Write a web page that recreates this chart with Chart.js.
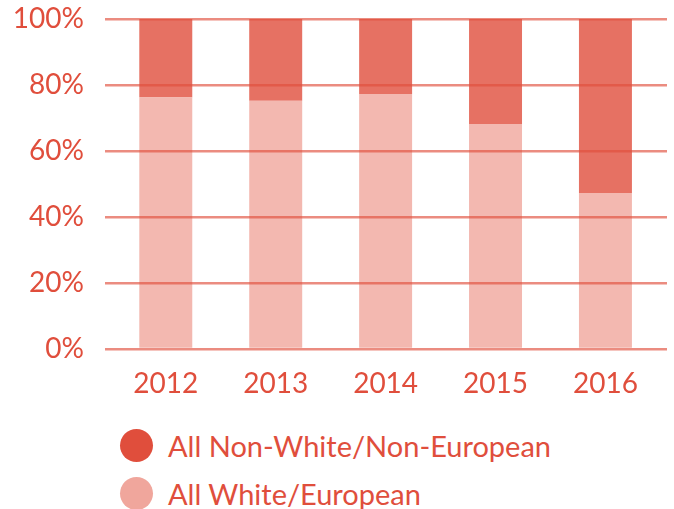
<!DOCTYPE html>
<html>
<head>
<meta charset="utf-8">
<script src="https://cdn.jsdelivr.net/npm/chart.js@4.4.1/dist/chart.umd.min.js"></script>
<style>
  html, body { margin: 0; padding: 0; background: #fff; }
  #wrap { position: relative; width: 674px; height: 509px; overflow: hidden; }
  #chartBox { position: absolute; left: 0; top: 0; width: 674px; height: 405px; }
  #legend { position: absolute; left: 120px; top: 421px; font-family: Lato, sans-serif; font-size: 29px; color: #e04e3c; }
  .item { display: flex; align-items: center; height: 48px; }
  .dot { width: 33px; height: 33px; border-radius: 50%; margin-right: 15px; }
</style>
</head>
<body>
<div id="wrap">
  <div id="chartBox"><canvas id="c"></canvas></div>
  <div id="legend"></div>
</div>
<script>
const categories = ['2012', '2013', '2014', '2015', '2016'];
const whiteEuropean = [76.3, 75.2, 77.3, 68.2, 47.3];
const nonWhiteNonEuropean = [23.7, 24.8, 22.7, 31.8, 52.7];
const yTicks = [0, 20, 40, 60, 80, 100];
const seriesNames = ['All White/European', 'All Non-White/Non-European'];

const textColor = '#e04e3c';
const fontFamily = 'Lato, sans-serif';

const toPoints = arr => arr.map((v, i) => ({ x: i, y: v }));

const chart = new Chart(document.getElementById('c'), {
  type: 'bar',
  data: {
    datasets: [
      { label: seriesNames[0], data: toPoints(whiteEuropean), backgroundColor: 'rgba(240,166,156,0.8)', legendColor: '#f0a69c', borderWidth: 0 },
      { label: seriesNames[1], data: toPoints(nonWhiteNonEuropean), backgroundColor: 'rgba(224,78,60,0.8)', legendColor: '#e04e3c', borderWidth: 0 }
    ]
  },
  options: {
    responsive: true,
    maintainAspectRatio: false,
    animation: false,
    layout: { padding: { top: 19, right: 7, left: 0, bottom: 0 } },
    datasets: { bar: { barPercentage: 0.482, categoryPercentage: 1 } },
    plugins: { legend: { display: false }, tooltip: { enabled: false } },
    scales: {
      x: {
        type: 'linear',
        stacked: true,
        offset: false,
        min: -0.553,
        max: 4.56,
        grid: { display: false, offset: false },
        border: { display: false },
        afterBuildTicks: s => { s.ticks = categories.map((_, i) => ({ value: i })); },
        afterFit: s => { s.height = 56; s.paddingLeft = 0; s.paddingRight = 0; },
        ticks: {
          callback: v => categories[v] ?? '',
          color: textColor,
          font: { family: fontFamily, size: 28 },
          padding: 10,
          maxRotation: 0,
          autoSkip: false
        }
      },
      y: {
        stacked: true,
        min: 0,
        max: 100,
        afterBuildTicks: s => { s.ticks = yTicks.map(v => ({ value: v })); },
        afterFit: s => { s.width = 105; s.paddingTop = 0; s.paddingBottom = 0; },
        border: { display: false },
        grid: { color: 'rgba(224,78,60,0.65)', lineWidth: 2.5, drawTicks: false, z: 1 },
        ticks: {
          callback: v => v + '%',
          color: textColor,
          font: { family: fontFamily, size: 28 },
          padding: 21
        }
      }
    }
  }
});

const legend = document.getElementById('legend');
chart.data.datasets.slice().reverse().forEach(ds => {
  const item = document.createElement('div');
  item.className = 'item';
  const dot = document.createElement('span');
  dot.className = 'dot';
  dot.style.background = ds.legendColor;
  const txt = document.createElement('span');
  txt.textContent = ds.label;
  item.appendChild(dot);
  item.appendChild(txt);
  legend.appendChild(item);
});
</script>
</body>
</html>
